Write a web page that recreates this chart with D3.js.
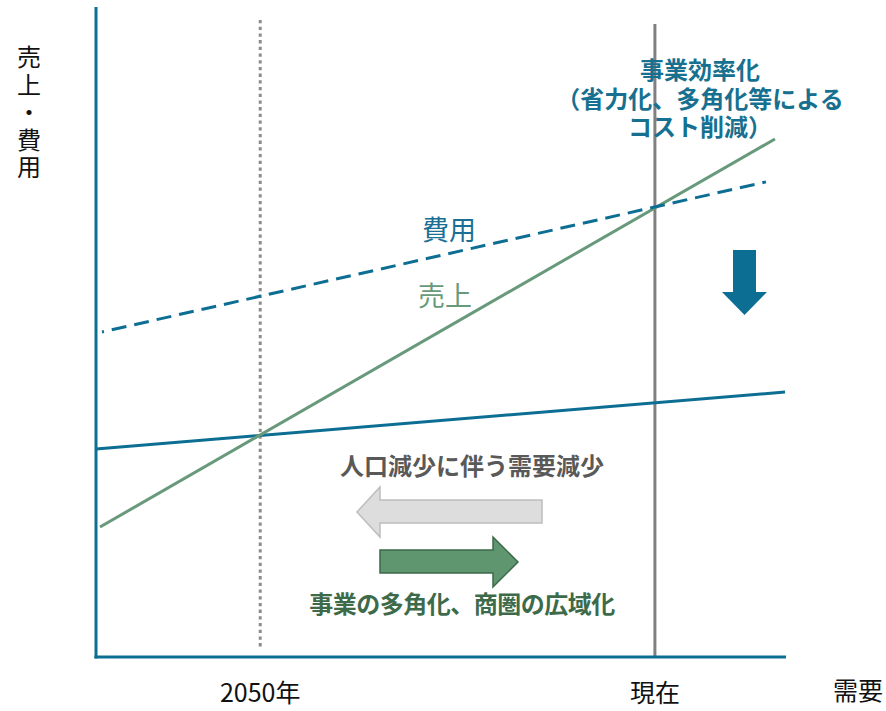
<!DOCTYPE html>
<html><head><meta charset="utf-8">
<script src="https://cdn.jsdelivr.net/npm/d3@7"></script>
<style>html,body{margin:0;padding:0;background:#fff;}svg{display:block;font-family:"Noto Sans CJK JP","Noto Sans",sans-serif;}</style>
</head><body><div id="chart"></div>
<script>
// Data (x: demand, y: sales/cost, arbitrary 0-100 units)
const costLine = [[0.87, 50.0], [97.1, 73.1]];      // 費用 (dashed)
const salesLine = [[0.58, 20.0], [98.4, 79.7]];     // 売上
const reducedCostLine = [[0, 32.0], [99.86, 40.77]]; // cost after efficiency
const markers = [{name: "2050年", x: 23.8, top: 98.0, bottom: 1.1, style: "dotted"},
                 {name: "現在", x: 81.0, top: 97.4, bottom: 0, style: "solid"}];
const axisTitleY = "売上・費用";
const axisTitleX = "需要";
const annoTop = ["事業効率化", "（省力化、多角化等による", "コスト削減）"];
const annoLeft = "人口減少に伴う需要減少";
const annoRight = "事業の多角化、商圏の広域化";

const W = 886, H = 711;
const blue = "#0d6e94", green = "#68997a";
const svg = d3.select("#chart").append("svg").attr("width", W).attr("height", H);
const x = d3.scaleLinear().domain([0, 100]).range([96, 786]);
const y = d3.scaleLinear().domain([0, 100]).range([657, 7]);
const line = d3.line().x(d => x(d[0])).y(d => y(d[1]));

// markers
markers.forEach(m => {
  svg.append("line").attr("x1", x(m.x)).attr("x2", x(m.x)).attr("y1", y(m.top)).attr("y2", y(m.bottom))
    .attr("stroke", m.style === "dotted" ? "#8c8c8c" : "#808080")
    .attr("stroke-width", 3)
    .attr("stroke-dasharray", m.style === "dotted" ? "3.3 3.4" : null);
  svg.append("text").attr("x", x(m.x)).attr("y", 702).attr("text-anchor", "middle")
    .attr("font-size", 25).attr("fill", "#111").text(m.name);
});

// axes
svg.append("line").attr("x1", x(0)).attr("x2", x(0)).attr("y1", y(100)).attr("y2", y(0) + 1.5)
  .attr("stroke", blue).attr("stroke-width", 3);
svg.append("line").attr("x1", x(0) - 1.5).attr("x2", x(100)).attr("y1", y(0)).attr("y2", y(0))
  .attr("stroke", blue).attr("stroke-width", 3);

// lines
svg.append("path").attr("d", line(reducedCostLine)).attr("fill", "none").attr("stroke", blue).attr("stroke-width", 3);
svg.append("path").attr("d", line(salesLine)).attr("fill", "none").attr("stroke", green).attr("stroke-width", 3);
svg.append("path").attr("d", line(costLine)).attr("fill", "none").attr("stroke", blue).attr("stroke-width", 3)
  .attr("stroke-dasharray", "15 8").attr("stroke-dashoffset", 13);

// line labels
svg.append("text").attr("x", 449).attr("y", 240).attr("text-anchor", "middle").attr("font-size", 27).attr("fill", "#1b6e94").text("費用");
svg.append("text").attr("x", 445).attr("y", 306).attr("text-anchor", "middle").attr("font-size", 27).attr("fill", green).text("売上");

// y axis title (vertical)
svg.append("text").attr("x", 29).attr("y", 45)
  .style("writing-mode", "vertical-rl").style("text-orientation", "upright")
  .attr("letter-spacing", 3.5)
  .attr("font-size", 24).attr("fill", "#111").text(axisTitleY);
svg.append("text").attr("x", 858).attr("y", 700).attr("text-anchor", "middle").attr("font-size", 25).attr("fill", "#111").text(axisTitleX);

// top annotation (three lines)
annoTop.forEach((t, i) => {
  svg.append("text").attr("x", 700).attr("y", [79, 108, 136][i]).attr("text-anchor", "middle")
    .style("font-family", '"Liberation Sans", "Noto Sans CJK JP", sans-serif')
    .attr("font-size", 24).attr("font-weight", "bold").attr("fill", "#17708f").text(t);
});

// down arrow
svg.append("path").attr("d", "M733,250 L756,250 L756,292 L767,292 L744.5,315 L722,292 L733,292 Z").attr("fill", blue);

// left (grey) arrow
svg.append("text").attr("x", 472).attr("y", 475).attr("text-anchor", "middle").attr("font-size", 24)
  .attr("font-weight", "bold").attr("fill", "#595959").text(annoLeft);
svg.append("path").attr("d", "M542,500 L380,500 L380,487 L357,512 L380,537 L380,523 L542,523 Z")
  .attr("fill", "#dddddd").attr("stroke", "#bdbdbd").attr("stroke-width", 1.5);

// right (green) arrow
svg.append("path").attr("d", "M380,550 L493,550 L493,537 L518,562 L493,587 L493,573 L380,573 Z")
  .attr("fill", "#5f9670").attr("stroke", "#3b6a48").attr("stroke-width", 1.5);
svg.append("text").attr("x", 462).attr("y", 613).attr("text-anchor", "middle").attr("font-size", 24)
  .attr("font-weight", "bold").attr("fill", "#3d6b4a").attr("letter-spacing", -0.5).text(annoRight);
</script></body></html>
